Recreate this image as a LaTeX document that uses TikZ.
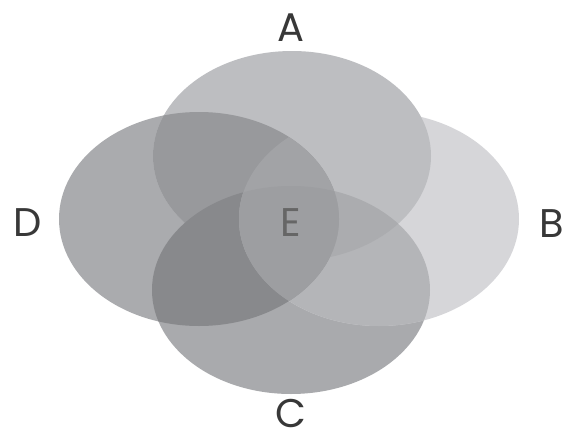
\documentclass[tikz,border=0pt]{standalone}
\usepackage{fontspec}
\setmainfont{Poppins}
\usepackage{xcolor}
\usepackage{tikz}
\definecolor{setA}{HTML}{BDBEC1}
\definecolor{setB}{HTML}{D6D6D9}
\definecolor{setC}{HTML}{A9AAAD}
\definecolor{setD}{HTML}{AAABAE}
\definecolor{setAD}{HTML}{98999C}
\definecolor{setBC}{HTML}{B4B5B8}
\definecolor{setCD}{HTML}{88898C}
\definecolor{setABC}{HTML}{ABACAF}
\definecolor{setE}{HTML}{A2A3A6}
\definecolor{setBCD}{HTML}{9D9EA1}
\tikzset{
  setlbl/.style={font=\fontsize{40}{46}\selectfont, text=black!78, inner sep=0pt},
  midlbl/.style={setlbl, text=black!60},
}
\def\ellA{(cA) ellipse [x radius=139pt, y radius=105pt]}
\def\ellB{(cB) ellipse [x radius=140pt, y radius=107pt]}
\def\ellC{(cC) ellipse [x radius=139pt, y radius=104pt]}
\def\ellD{(cD) ellipse [x radius=140pt, y radius=107pt]}

\begin{document}
\begin{tikzpicture}[x=1pt, y=-1pt]
  \useasboundingbox[fill=white] (0,0) rectangle (574,434);

  %% === Centres of the four sets ===
  \coordinate (cA) at (292,156);
  \coordinate (cB) at (379,219);
  \coordinate (cC) at (291,290);
  \coordinate (cD) at (199,219);

  %% === Plain sets ===
  \fill[setD] \ellD;
  \fill[setC] \ellC;
  \fill[setB] \ellB;
  \fill[setA] \ellA;

  %% === Overlaps ===
  \begin{scope} \clip \ellB; \fill[setBC] \ellC; \end{scope}
  \begin{scope} \clip \ellA; \fill[setAD] \ellD; \end{scope}
  \begin{scope} \clip \ellC; \fill[setCD] \ellD; \end{scope}
  \begin{scope} \clip \ellA; \clip \ellB; \fill[setABC] \ellC; \end{scope}
  \begin{scope} \clip \ellB; \fill[setE] \ellD; \end{scope}
  \begin{scope} \clip \ellB; \clip \ellC; \fill[setBCD] \ellD; \end{scope}

  %% === Labels ===
  \node[setlbl] (labA) at (291,28)  {A};
  \node[setlbl] (labB) at (552,224) {B};
  \node[setlbl] (labC) at (291,413) {C};
  \node[setlbl] (labD) at (28,223)  {D};
  \node[midlbl] (labE) at (291,223) {E};
\end{tikzpicture}
\end{document}
